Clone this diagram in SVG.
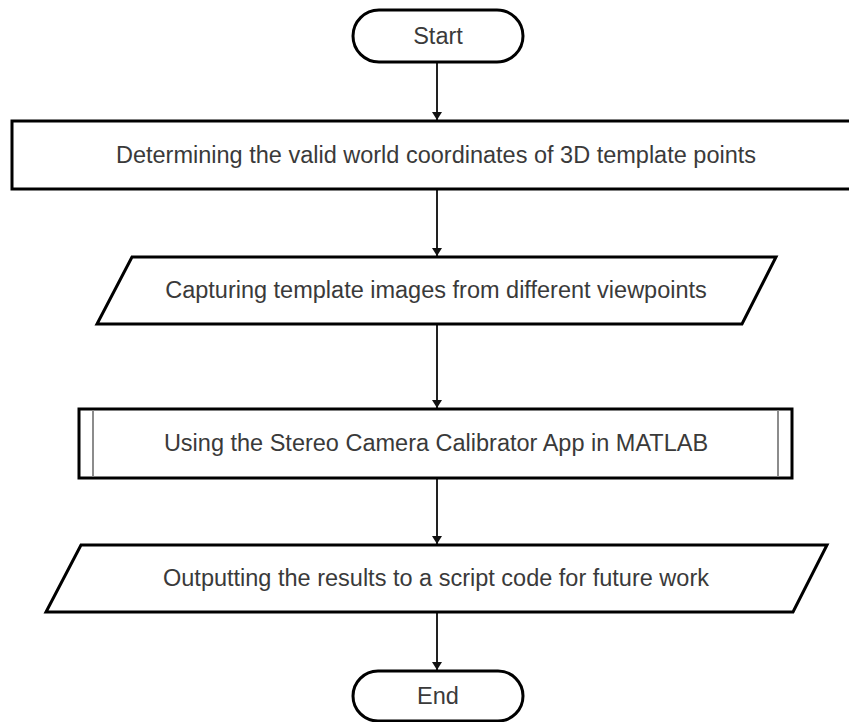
<svg xmlns="http://www.w3.org/2000/svg" width="849" height="722" viewBox="0 0 849 722">
  <style>
    .shape { fill: #ffffff; stroke: #000000; stroke-width: 3; }
    .inner { stroke: #8c8c8c; stroke-width: 2; fill: none; }
    .label { font-family: "Liberation Sans", Arial, sans-serif; font-size: 23.5px; fill: #3a3a3a; text-anchor: middle; }
    .edge { stroke: #222222; stroke-width: 2; fill: none; marker-end: url(#arrow); }
  </style>
  <defs>
    <marker id="arrow" viewBox="0 0 8 10" refX="8" refY="5" markerWidth="4" markerHeight="5" orient="auto" markerUnits="strokeWidth">
      <path d="M0,0 L8,5 L0,10 Z" fill="#111111"/>
    </marker>
  </defs>

  <rect width="849" height="722" fill="#ffffff"/>

  <g id="connectors">
    <line class="edge" x1="437" y1="62" x2="437" y2="120"/>
    <line class="edge" x1="437" y1="189" x2="437" y2="256"/>
    <line class="edge" x1="437" y1="324" x2="437" y2="408"/>
    <line class="edge" x1="437" y1="478" x2="437" y2="544"/>
    <line class="edge" x1="437" y1="612" x2="437" y2="670"/>
  </g>

  <g id="start">
    <rect class="shape" x="353" y="10" width="170" height="52" rx="26" ry="26"/>
    <text class="label" x="438" y="44">Start</text>
  </g>

  <g id="determine-coordinates">
    <rect class="shape" x="12" y="121" width="849" height="68"/>
    <text class="label" x="436" y="163">Determining the valid world coordinates of 3D template points</text>
  </g>

  <g id="capture-images">
    <polygon class="shape" points="132,257 776,257 742,324 97,324"/>
    <text class="label" x="436" y="298">Capturing template images from different viewpoints</text>
  </g>

  <g id="calibrator-app">
    <rect class="shape" x="79" y="409" width="713" height="69"/>
    <line class="inner" x1="93" y1="410.5" x2="93" y2="476.5"/>
    <line class="inner" x1="778" y1="410.5" x2="778" y2="476.5"/>
    <text class="label" x="436" y="451">Using the Stereo Camera Calibrator App in MATLAB</text>
  </g>

  <g id="output-script">
    <polygon class="shape" points="81,545 827,545 793,612 46,612"/>
    <text class="label" x="436" y="586">Outputting the results to a script code for future work</text>
  </g>

  <g id="end">
    <rect class="shape" x="353" y="671" width="170" height="50" rx="25" ry="25"/>
    <text class="label" x="438" y="704">End</text>
  </g>
</svg>
